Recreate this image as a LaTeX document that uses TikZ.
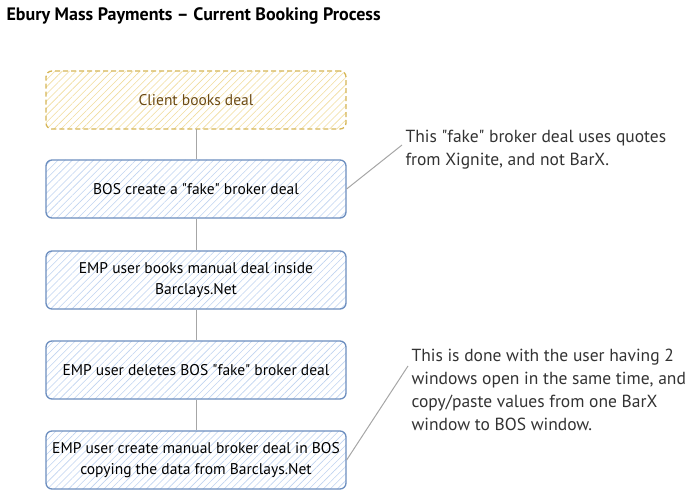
\documentclass[tikz,border=0pt]{standalone}
\usepackage{fontspec}
\newfontfamily\sketchfont{PT Sans}
\usepackage{tikz}
\usetikzlibrary{patterns.meta}
\definecolor{blueline}{HTML}{6C8EBF}
\definecolor{bluefill}{HTML}{BFD3F0}
\definecolor{yellowline}{HTML}{D6B656}
\definecolor{yellowfill}{HTML}{F0DC9C}
\definecolor{browntext}{HTML}{6B4A14}
\definecolor{notetext}{HTML}{333333}
\tikzset{
	every stage/.style={
		rectangle,
		rounded corners=6pt,
		draw=blueline,
		line width=1.3pt,
		pattern={Lines[angle=45,distance=5pt,line width=0.6pt]},
		pattern color=bluefill,
		minimum width=300pt,
		minimum height=58pt,
		align=center
	},
	stage 1/.style={
		draw=yellowline,
		dash pattern=on 5pt off 3pt,
		pattern color=yellowfill
	},
	stage text/.style={
		align=center,
		font=\sketchfont\fontsize{15.5}{21}\selectfont
	},
	note/.style={
		anchor=west,
		align=left,
		text=notetext,
		font=\sketchfont\fontsize{17.5}{23}\selectfont
	},
	link/.style={
		draw=black!35,
		line width=1pt
	},
}

\begin{document}
\begin{tikzpicture}[x=1pt, y=-1pt]

\useasboundingbox (0,0) rectangle (695,494);

\node [anchor=west, font=\sketchfont\fontsize{18}{22}\selectfont\bfseries] (title) at (3,16)
	{Ebury Mass Payments \textendash{} Current Booking Process};

\foreach \m/\l in {1/{100}, 2/{189}, 3/{280}, 4/{370}, 5/{460}}
	\node [every stage/.try, stage \m/.try] (stage-\m) at (196,\l) {};

\node at (stage-1) [stage text, text=browntext] {Client books deal};
\node at (stage-2) [stage text] {BOS create a "fake" broker deal};
\node at (stage-3) [stage text] {EMP user books manual deal inside\\Barclays.Net};
\node at (stage-4) [stage text] {EMP user deletes BOS "fake" broker deal};
\node at (stage-5) [stage text] {EMP user create manual broker deal in BOS\\copying the data from Barclays.Net};

\foreach \i [count=\j from 2] in {1,2,3,4}
	\draw [link] (stage-\i) -- (stage-\j);

% notes on the right
\node [note] (note-1) at (402,150)
	{This "fake" broker deal uses quotes\\from Xignite, and not BarX.};
\node [note] (note-2) at (408,390)
	{This is done with the user having 2\\windows open in the same time, and\\copy/paste values from one BarX\\window to BOS window.};

\draw [link] (stage-2.east) -- ([yshift=5pt]note-1.west);
\draw [link] (stage-5.east) -- ([yshift=24pt]note-2.west);

\end{tikzpicture}
\end{document}
